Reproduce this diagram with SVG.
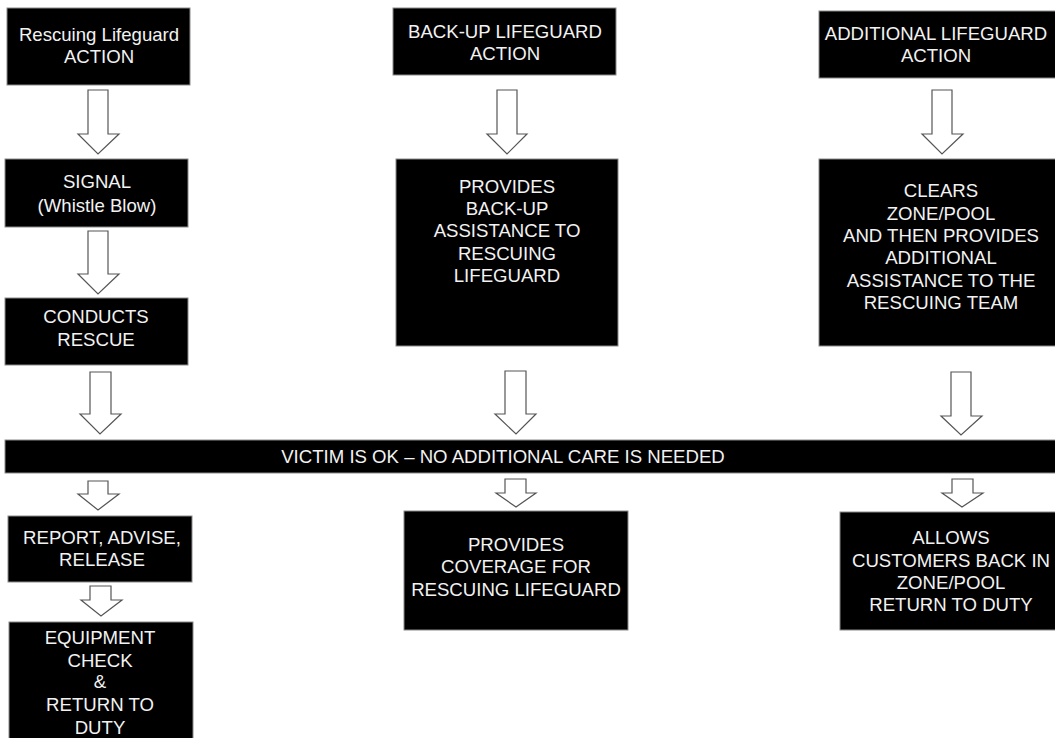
<svg xmlns="http://www.w3.org/2000/svg" width="1055" height="738" viewBox="0 0 1055 738">
<style>
.box{fill:#000;stroke:#8a8a8a;stroke-width:1}
.t{font-family:"Liberation Sans",Arial,sans-serif;font-size:18.6px;fill:#f2f2f2;text-anchor:middle}
.arr{fill:#fff;stroke:#555;stroke-width:1.2;stroke-linejoin:miter}
</style>
<rect width="1055" height="738" fill="#fff"/>
<g id="connectors">
<polygon class="arr" points="88,90 108,90 108,134 119,134 98,154 78,134 88,134"/>
<polygon class="arr" points="88,231 108,231 108,274 119,274 98,294 78,274 88,274"/>
<polygon class="arr" points="90,372 111,372 111,414 121,414 100,434 80,414 90,414"/>
<polygon class="arr" points="88,481 108,481 108,494 119,494 98,510 78,494 88,494"/>
<polygon class="arr" points="90,586 111,586 111,600 122,600 101,616 81,600 90,600"/>
<polygon class="arr" points="497,90 517,90 517,134 527,134 507,154 487,134 497,134"/>
<polygon class="arr" points="505,371 526,371 526,414 536,414 516,434 495,414 505,414"/>
<polygon class="arr" points="505,479 526,479 526,493 536,493 516,507 496,493 505,493"/>
<polygon class="arr" points="932,90 952,90 952,134 963,134 942,154 922,134 932,134"/>
<polygon class="arr" points="951,372 971,372 971,416 982,416 961,435 941,416 951,416"/>
<polygon class="arr" points="952,479 973,479 973,493 983,493 962,507 942,493 952,493"/>
</g>
<g id="n1"><rect class="box" x="7" y="8" width="183" height="77"/>
<text class="t" x="99" y="41">Rescuing Lifeguard</text><text class="t" x="99" y="63">ACTION</text></g>
<g id="n2"><rect class="box" x="5" y="159" width="183" height="68"/>
<text class="t" x="97" y="188">SIGNAL</text><text class="t" x="97" y="212">(Whistle Blow)</text></g>
<g id="n3"><rect class="box" x="5" y="298" width="183" height="67"/>
<text class="t" x="96" y="323">CONDUCTS</text><text class="t" x="96" y="346">RESCUE</text></g>
<g id="banner"><rect class="box" x="5" y="440" width="1055" height="33"/>
<text class="t" x="503" y="463">VICTIM IS OK – NO ADDITIONAL CARE IS NEEDED</text></g>
<g id="n4"><rect class="box" x="8" y="516" width="184" height="66"/>
<text class="t" x="102" y="544">REPORT, ADVISE,</text><text class="t" x="102" y="566">RELEASE</text></g>
<g id="n5"><rect class="box" x="9" y="622" width="184" height="120"/>
<text class="t" x="100" y="644">EQUIPMENT</text><text class="t" x="100" y="667">CHECK</text><text class="t" x="100" y="688">&amp;</text><text class="t" x="100" y="711">RETURN TO</text><text class="t" x="100" y="734">DUTY</text></g>
<g id="m1"><rect class="box" x="393" y="8" width="223" height="67"/>
<text class="t" x="505" y="38">BACK-UP LIFEGUARD</text><text class="t" x="505" y="60">ACTION</text></g>
<g id="m2"><rect class="box" x="396" y="159" width="222" height="187"/>
<text class="t" x="507" y="193">PROVIDES</text><text class="t" x="507" y="215">BACK-UP</text><text class="t" x="507" y="237">ASSISTANCE TO</text><text class="t" x="507" y="260">RESCUING</text><text class="t" x="507" y="282">LIFEGUARD</text></g>
<g id="m3"><rect class="box" x="404" y="511" width="224" height="119"/>
<text class="t" x="516" y="551">PROVIDES</text><text class="t" x="516" y="573">COVERAGE FOR</text><text class="t" x="516" y="596">RESCUING LIFEGUARD</text></g>
<g id="r1"><rect class="box" x="819" y="11" width="240" height="67"/>
<text class="t" x="936" y="40">ADDITIONAL LIFEGUARD</text><text class="t" x="936" y="62">ACTION</text></g>
<g id="r2"><rect class="box" x="819" y="159" width="240" height="187"/>
<text class="t" x="941" y="197">CLEARS</text><text class="t" x="941" y="220">ZONE/POOL</text><text class="t" x="941" y="242">AND THEN PROVIDES</text><text class="t" x="941" y="264">ADDITIONAL</text><text class="t" x="941" y="287">ASSISTANCE TO THE</text><text class="t" x="941" y="309">RESCUING TEAM</text></g>
<g id="r3"><rect class="box" x="840" y="512" width="220" height="118"/>
<text class="t" x="951" y="544">ALLOWS</text><text class="t" x="951" y="567">CUSTOMERS BACK IN</text><text class="t" x="951" y="589">ZONE/POOL</text><text class="t" x="951" y="611">RETURN TO DUTY</text></g>
</svg>
